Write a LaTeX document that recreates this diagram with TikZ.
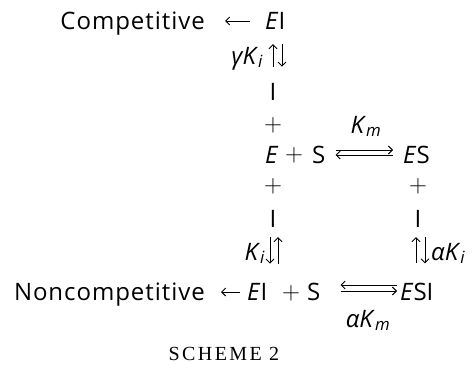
\documentclass[tikz,border=0pt]{standalone}
\usepackage{fontspec}
\setmainfont{Open Sans}
\newfontfamily\wide[LetterSpace=4]{Open Sans}
\newfontfamily\capsfont[LetterSpace=12]{Liberation Serif}
\usetikzlibrary{arrows.meta}
\newcommand{\itx}[1]{\textit{#1}}
\newcommand{\subi}[1]{\textsubscript{\itshape #1}}

\begin{document}
\begin{tikzpicture}[x=1pt,y=-1pt,font=\fontsize{24}{28}\selectfont,
  txt/.style={inner sep=0pt,anchor=base},
  plus/.style={inner sep=0pt,anchor=base,font=\fontsize{25}{28}\selectfont},
  eq/.style={line width=0.9pt,-{Straight Barb[length=4pt,width=8pt]}}]
  \useasboundingbox (0,0) rectangle (473,364);
  % top row
  \node[txt,anchor=base east] (comp) at (205,29) {\wide Competitive};
  \node[txt,anchor=base west] (ei) at (265,29) {\itx{E}I};
  \node[txt,anchor=base east] (gki) at (263,64) {\itx{γK}\subi{i}};
  \node[txt] (itop) at (273,100) {I};
  \node[plus] (pa) at (273,131) {$+$};
  % E + S <=> ES
  \node[txt] (km) at (366,133) {\itx{K}\subi{m}};
  \node[txt,anchor=base west] (e) at (265,163) {\itx{E}};
  \node[plus] (pe) at (294,161) {$+$};
  \node[txt,anchor=base west] (s) at (312,163) {S};
  \node[txt,anchor=base west] (es) at (403,163) {\itx{E}S};
  \node[plus] (pb) at (273,192) {$+$};
  \node[plus] (pc) at (418,192) {$+$};
  \node[txt] (ileft) at (273,227) {I};
  \node[txt] (iright) at (418,227) {I};
  \node[txt,anchor=base east] (ki) at (265,260) {\itx{K}\subi{i}};
  \node[txt,anchor=base west] (aki) at (431,260) {\itx{αK}\subi{i}};
  % bottom row
  \node[txt,anchor=base east] (noncomp) at (205,300) {\wide Noncompetitive};
  \node[txt,anchor=base west] (ei2) at (247,300) {\itx{E}I};
  \node[plus] (pd) at (291,299) {$+$};
  \node[txt,anchor=base west] (s2) at (307,300) {S};
  \node[txt,anchor=base west] (esi) at (400,300) {\itx{E}SI};
  \node[txt] (akm) at (368,327) {\itx{αK}\subi{m}};
  \node[txt] (caption) at (224,360) {\fontsize{20}{22}\capsfont SCHEME 2};

  % fates of the inhibitor complexes
  \draw[eq,shorten <=15pt,shorten >=20pt] ([yshift=8pt]ei.base west) -- ([yshift=8pt]comp.base east);
  \draw[eq,shorten <=7pt,shorten >=16pt] ([yshift=8pt]ei2.base west) -- ([yshift=8pt]noncomp.base east);
  % substrate binding
  \draw[eq,shorten <=10pt,shorten >=10pt] ([yshift=13pt]s.base east) -- ([yshift=13pt]es.base west);
  \draw[eq,shorten <=10pt,shorten >=10pt] ([yshift=8pt]es.base west) -- ([yshift=8pt]s.base east);
  \draw[eq,shorten <=3pt,shorten >=20pt] ([yshift=15pt]esi.base west) -- ([yshift=15pt]s2.base east);
  \draw[eq,shorten <=20pt,shorten >=3pt] ([yshift=9pt]s2.base east) -- ([yshift=9pt]esi.base west);
  % inhibitor binding
  \draw[eq,shorten <=16pt,shorten >=15pt] (itop.north) -- (itop.north |- ei.south);
  \draw[eq,shorten <=15pt,shorten >=16pt] ([xshift=9pt]itop.north |- ei.south) -- ([xshift=9pt]itop.north);
  \draw[eq,shorten <=10pt,shorten >=19pt] ([xshift=-3pt]ileft.south) -- ([xshift=-3pt]ileft.south |- ei2.north);
  \draw[eq,shorten <=19pt,shorten >=10pt] ([xshift=5pt]ileft.south |- ei2.north) -- ([xshift=5pt]ileft.south);
  \draw[eq,shorten <=19pt,shorten >=10pt] ([xshift=-2pt]iright.south |- esi.north) -- ([xshift=-2pt]iright.south);
  \draw[eq,shorten <=10pt,shorten >=19pt] ([xshift=7pt]iright.south) -- ([xshift=7pt]iright.south |- esi.north);
\end{tikzpicture}
\end{document}
